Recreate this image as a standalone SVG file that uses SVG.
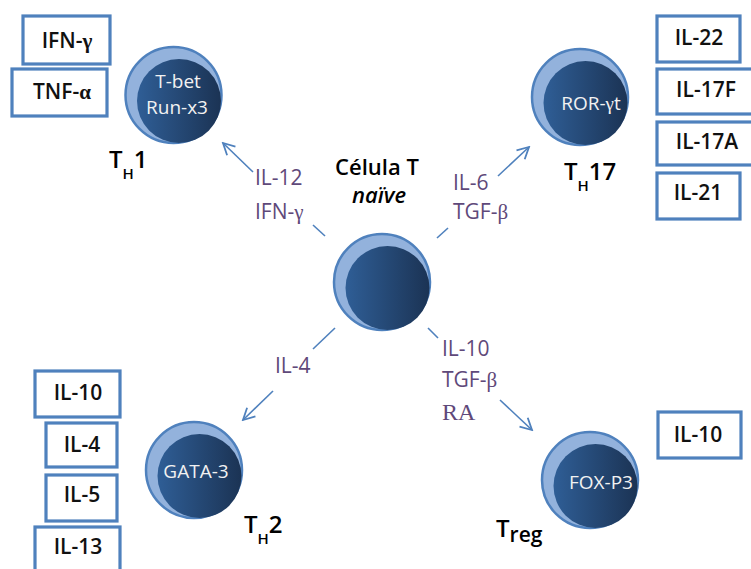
<svg xmlns="http://www.w3.org/2000/svg" width="751" height="569" viewBox="0 0 751 569">
<defs>
  <linearGradient id="core" x1="0" y1="0" x2="1" y2="0">
    <stop offset="0" stop-color="#2f5e96"/>
    <stop offset="1" stop-color="#1b3354"/>
  </linearGradient>
  <marker id="arr" markerUnits="userSpaceOnUse" markerWidth="14" markerHeight="14" viewBox="0 0 14 14" refX="12.5" refY="7" orient="auto">
    <path d="M1,1 L12.5,7 L1,13" fill="none" stroke="#4f81bd" stroke-width="1.8"/>
  </marker>
  <style>
    .box{fill:#fff;stroke:#4f81bd;stroke-width:3.2}
    .bt{font-family:"Open Sans","Liberation Sans",sans-serif;font-weight:600;font-size:21px;fill:#111;text-anchor:middle}
    .outer{fill:#93b2dc;stroke:#4f81bd;stroke-width:2.5}
    .inner{fill:url(#core)}
    .ct{font-family:"Open Sans","Liberation Sans",sans-serif;font-size:19px;fill:#f2f2f2;text-anchor:middle}
    .lbl{font-family:"Open Sans","Liberation Sans",sans-serif;font-weight:600;fill:#000}
    .pl{font-family:"Open Sans","Liberation Sans",sans-serif;font-size:21px;fill:#5f497a}
    .gr{font-family:"Liberation Serif",serif}
    .ra{font-size:24px}
    .con line{stroke:#4f81bd;stroke-width:1.6}
  </style>
</defs>
<rect width="751" height="569" fill="#fff"/>

<g id="connectors" class="con">
  <line x1="253" y1="172" x2="223" y2="143" marker-end="url(#arr)"/>
  <line x1="313" y1="225" x2="325" y2="236"/>
  <line x1="437" y1="238" x2="448" y2="228"/>
  <line x1="498" y1="176" x2="529" y2="147" marker-end="url(#arr)"/>
  <line x1="335" y1="328" x2="313" y2="349"/>
  <line x1="273" y1="391" x2="243" y2="420" marker-end="url(#arr)"/>
  <line x1="428" y1="328" x2="438" y2="338"/>
  <line x1="500" y1="400" x2="532" y2="430" marker-end="url(#arr)"/>
</g>

<g id="naive">
  <circle class="outer" cx="382" cy="282" r="48"/>
  <circle class="inner" cx="387.5" cy="288" r="42"/>
  <text class="lbl" x="377" y="175" font-size="22" text-anchor="middle">Célula T</text>
  <text class="lbl" x="379" y="203" font-size="22" font-style="italic" text-anchor="middle">naïve</text>
</g>

<g id="th1">
  <circle class="outer" cx="173.5" cy="95" r="48"/>
  <circle class="inner" cx="179" cy="101" r="42"/>
  <text class="ct" x="178" y="88">T-bet</text>
  <text class="ct" x="177" y="114">Run-x3</text>
  <text class="lbl" x="109" y="168" font-size="24">T<tspan font-size="15" dy="11">H</tspan><tspan dy="-11">1</tspan></text>
</g>
<g id="th1-ifng"><rect class="box" x="23" y="16" width="87" height="48"/><text class="bt" x="67" y="48">IFN-<tspan class="gr">γ</tspan></text></g>
<g id="th1-tnfa"><rect class="box" x="12" y="69" width="95" height="47"/><text class="bt" x="62" y="99">TNF-<tspan class="gr">α</tspan></text></g>
<g id="lbl-th1">
  <text class="pl" x="255" y="185">IL-12</text>
  <text class="pl" x="255" y="219">IFN-<tspan class="gr">γ</tspan></text>
</g>

<g id="th17">
  <circle class="outer" cx="580" cy="97" r="48"/>
  <circle class="inner" cx="585.5" cy="103" r="42"/>
  <text class="ct" x="591" y="110">ROR-<tspan class="gr">γ</tspan>t</text>
  <text class="lbl" x="564" y="180" font-size="24">T<tspan font-size="15" dy="11">H</tspan><tspan dy="-11">17</tspan></text>
</g>
<g id="th17-il22"><rect class="box" x="657" y="16" width="83" height="46"/><text class="bt" x="699" y="45">IL-22</text></g>
<g id="th17-il17f"><rect class="box" x="657" y="69" width="100" height="45"/><text class="bt" x="706" y="97">IL-17F</text></g>
<g id="th17-il17a"><rect class="box" x="657" y="122" width="100" height="43"/><text class="bt" x="707" y="149">IL-17A</text></g>
<g id="th17-il21"><rect class="box" x="657" y="173" width="83" height="46"/><text class="bt" x="698" y="200">IL-21</text></g>
<g id="lbl-th17">
  <text class="pl" x="453" y="190">IL-6</text>
  <text class="pl" x="453" y="219">TGF-<tspan class="gr">β</tspan></text>
</g>

<g id="th2">
  <circle class="outer" cx="194" cy="470" r="48"/>
  <circle class="inner" cx="199.5" cy="476" r="42"/>
  <text class="ct" x="196" y="478">GATA-3</text>
  <text class="lbl" x="244" y="533" font-size="24">T<tspan font-size="15" dy="11">H</tspan><tspan dy="-11">2</tspan></text>
</g>
<g id="th2-il10"><rect class="box" x="35" y="371" width="85" height="46"/><text class="bt" x="78" y="400">IL-10</text></g>
<g id="th2-il4"><rect class="box" x="46" y="423" width="71" height="44"/><text class="bt" x="82" y="452">IL-4</text></g>
<g id="th2-il5"><rect class="box" x="46" y="475" width="71" height="46"/><text class="bt" x="82" y="502">IL-5</text></g>
<g id="th2-il13"><rect class="box" x="35" y="527" width="85" height="60"/><text class="bt" x="78" y="554">IL-13</text></g>
<g id="lbl-th2"><text class="pl" x="275" y="373">IL-4</text></g>

<g id="treg">
  <circle class="outer" cx="590" cy="480" r="48"/>
  <circle class="inner" cx="595.5" cy="486" r="42"/>
  <text class="ct" x="601" y="489">FOX-P3</text>
  <text class="lbl" x="496" y="537" font-size="24">T<tspan font-size="21" dy="5">reg</tspan></text>
</g>
<g id="treg-il10"><rect class="box" x="658" y="412" width="83" height="46"/><text class="bt" x="698" y="442">IL-10</text></g>
<g id="lbl-treg">
  <text class="pl" x="442" y="356">IL-10</text>
  <text class="pl" x="442" y="387">TGF-<tspan class="gr">β</tspan></text>
  <text class="pl gr ra" x="442" y="420">RA</text>
</g>
</svg>
